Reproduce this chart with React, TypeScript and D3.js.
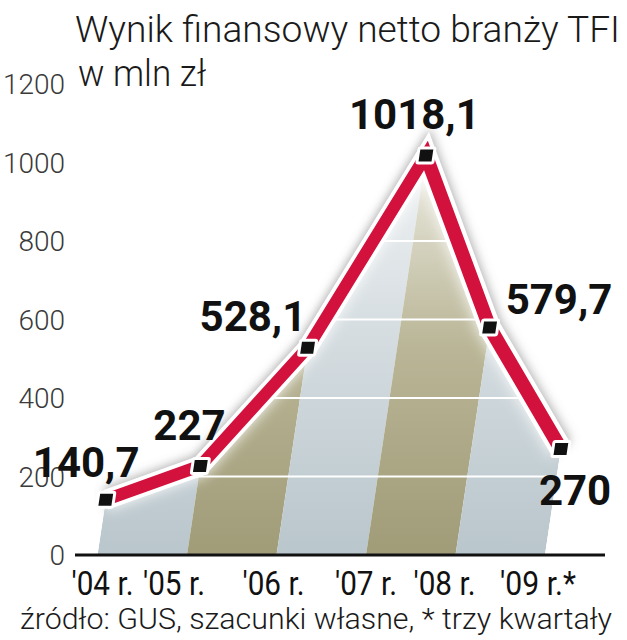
import React from 'react';
import * as d3 from 'd3';

// ---- data ----
const years = ["'04 r.", "'05 r.", "'06 r.", "'07 r.", "'08 r.", "'09 r.*"];
const values = [140.7, 227, 528.1, 1018.1, 579.7, 270];
const valueLabels = ['140,7', '227', '528,1', '1018,1', '579,7', '270'];
const yTicks = [0, 200, 400, 600, 800, 1000, 1200];
const gridValues = [200, 400, 600, 800, 1000];
const bandKinds = ['gray', 'olive', 'gray', 'olive', 'gray'];

const titleText = 'Wynik finansowy netto branży TFI';
const unitText = 'w mln zł';
const sourceText = 'źródło: GUS, szacunki własne, * trzy kwartały';

// ---- layout ----
const W = 627;
const H = 640;
const baseY = 555;
const topY = 84;
const xLeft = 97.5;
const xRight = 545;
const skew = 0.15;
const labelOffsets = [[-73, -23], [-47, -26], [-108, -17], [-77, -26], [16, -13], [-22, 56]];
const tickNudge = [5, -13, -3, 0, -11, -7];

export default function App() {
  const idx = years.map((_, i) => i);
  const x = d3.scalePoint<number>().domain(idx).range([xLeft, xRight]);
  const y = d3.scaleLinear().domain([0, 1200]).range([baseY, topY]);

  const pts: [number, number][] = values.map((v, i) => [x(i)!, y(v)]);
  const lineGen = d3.line<[number, number]>().x(d => d[0]).y(d => d[1]);
  const areaGen = d3
    .area<[number, number]>()
    .x(d => d[0])
    .y0(baseY)
    .y1(d => d[1]);
  const linePath = lineGen(pts) || '';
  const areaPath = areaGen(pts) || '';

  const skewT = `matrix(1,0,${-skew},1,${skew * baseY},0)`;
  const screenX = (i: number) => x(i)! + skew * (baseY - y(values[i]));

  const sans = 'Roboto, "Liberation Sans", Arial, sans-serif';

  return (
    <svg
      width={W}
      height={H}
      style={{ position: 'absolute', left: 0, top: 0, background: '#fff' }}
      xmlns="http://www.w3.org/2000/svg"
    >
      <defs>
        <linearGradient id="gGray" gradientUnits="userSpaceOnUse" x1="0" y1={baseY} x2="0" y2={y(1050)}>
          <stop offset="0" stopColor="#b9c6cc" />
          <stop offset="0.5" stopColor="#d3dbdf" />
          <stop offset="1" stopColor="#f2f4f5" />
        </linearGradient>
        <linearGradient id="gOlive" gradientUnits="userSpaceOnUse" x1="0" y1={baseY} x2="0" y2={y(1050)}>
          <stop offset="0" stopColor="#a09c78" />
          <stop offset="0.5" stopColor="#b9b596" />
          <stop offset="1" stopColor="#efeee6" />
        </linearGradient>
        <clipPath id="areaClip">
          <path d={areaPath} />
        </clipPath>
        <filter id="blurShadow" x="-20%" y="-20%" width="140%" height="140%">
          <feGaussianBlur stdDeviation="5" />
        </filter>
        <filter id="blurGlow" x="-20%" y="-20%" width="140%" height="140%">
          <feGaussianBlur stdDeviation="7" />
        </filter>
      </defs>

      {/* title */}
      <text x={75} y={42} fontFamily={sans} fontWeight={300} fontSize={37} fill="#1a1a1a"
        textLength={545} lengthAdjust="spacingAndGlyphs">{titleText}</text>
      <text x={78} y={86} fontFamily={sans} fontWeight={300} fontSize={37} fill="#1a1a1a"
        textLength={128} lengthAdjust="spacingAndGlyphs">{unitText}</text>

      {/* y tick labels */}
      {yTicks.map(t => (
        <text key={t} x={65} y={y(t) + 10} textAnchor="end" fontFamily={sans} fontWeight={300}
          fontSize={28} fill="#3a3a3a">{t}</text>
      ))}

      <g transform={skewT}>
        {/* shadow around the line */}
        <path d={linePath} fill="none" stroke="#6f6f6f" strokeWidth={24} strokeOpacity={0.55}
          strokeLinejoin="miter" filter="url(#blurShadow)" />
        {/* area bands */}
        <g clipPath="url(#areaClip)">
          {bandKinds.map((k, i) => (
            <rect key={i} x={x(i)!} y={topY - 20} width={x(i + 1)! - x(i)!} height={baseY - topY + 20}
              fill={k === 'gray' ? 'url(#gGray)' : 'url(#gOlive)'} />
          ))}
          {gridValues.map(g => (
            <line key={g} x1={xLeft - 100} x2={xRight + 100} y1={y(g)} y2={y(g)}
              stroke="#ffffff" strokeWidth={2} />
          ))}
          <path d={linePath} fill="none" stroke="#ffffff" strokeWidth={22} strokeOpacity={0.85}
            filter="url(#blurGlow)" />
        </g>
        {/* line */}
        <path d={linePath} fill="none" stroke="#ffffff" strokeWidth={21} strokeLinejoin="miter" />
        <path d={linePath} fill="none" stroke="#d3113d" strokeWidth={13} strokeLinejoin="miter" />
        {/* markers */}
        {pts.map((p, i) => (
          <rect key={i} x={p[0] - 8} y={p[1] - 7.5} width={16} height={15} rx={1.5}
            fill="#111" stroke="#fff" strokeWidth={3} />
        ))}
      </g>

      {/* baseline */}
      <line x1={75} x2={605} y1={baseY} y2={baseY} stroke="#111" strokeWidth={3} />

      {/* value labels */}
      {values.map((v, i) => (
        <text key={i} x={screenX(i) + labelOffsets[i][0]} y={y(v) + labelOffsets[i][1]}
          fontFamily={sans} fontWeight={700} fontSize={42} fill="#111">{valueLabels[i]}</text>
      ))}

      {/* x labels */}
      {years.map((yr, i) => (
        <text key={yr} x={x(i)! + tickNudge[i]} y={595} textAnchor="middle" fontFamily={sans}
          fontWeight={400} fontSize={34} fill="#111"
          textLength={yr.length > 6 ? 76 : 62} lengthAdjust="spacingAndGlyphs">{yr}</text>
      ))}

      {/* source */}
      <text x={20} y={629} fontFamily={sans} fontWeight={300} fontSize={29} fill="#1a1a1a"
        textLength={592} lengthAdjust="spacingAndGlyphs">{sourceText}</text>
    </svg>
  );
}
